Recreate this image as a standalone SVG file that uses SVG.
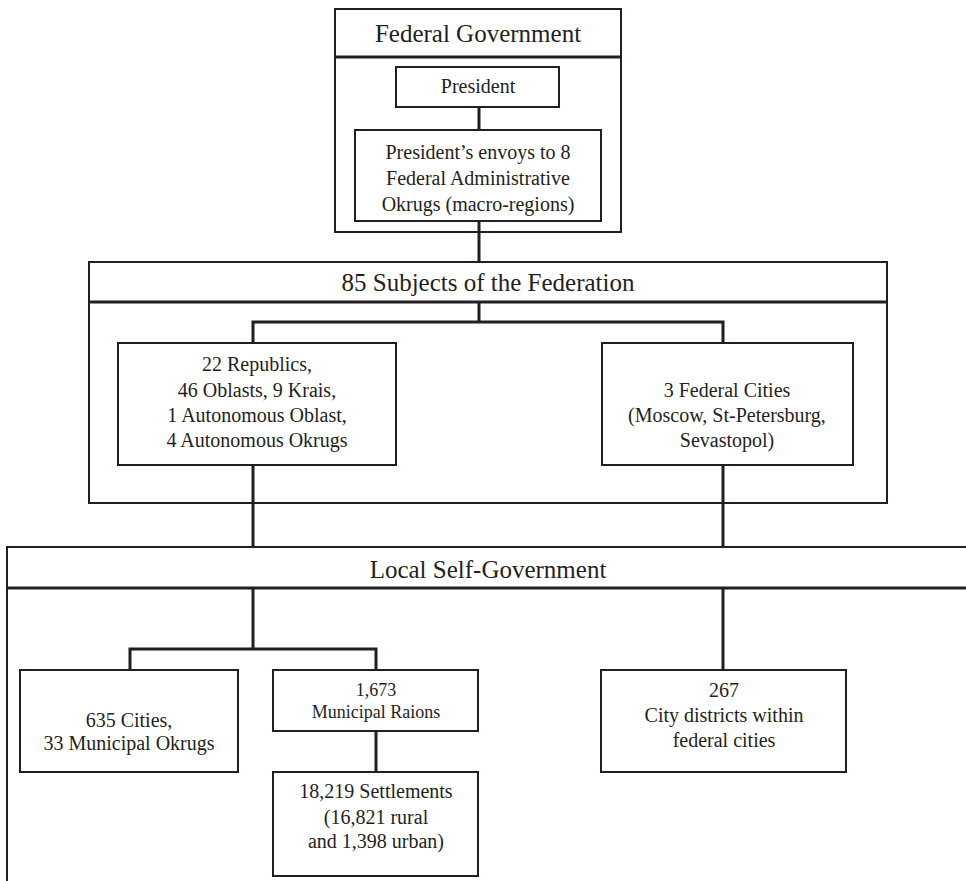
<svg xmlns="http://www.w3.org/2000/svg" width="966" height="881" viewBox="0 0 966 881">
<style>
text { font-family: 'Liberation Serif', Tinos, 'Times New Roman', 'Nimbus Roman', 'DejaVu Serif', serif; fill: #231f20; text-anchor: middle; }
.t25 { font-size: 25px; }
.t20 { font-size: 20px; }
.t18 { font-size: 18px; }
.box { fill: #ffffff; stroke: #231f20; stroke-width: 2; }
.div { stroke: #231f20; stroke-width: 3; fill: none; }
.con { stroke: #231f20; stroke-width: 3; fill: none; }
</style>
<rect width="966" height="881" fill="#ffffff"/>

<g id="federal-government">
  <rect class="box" x="335" y="9" width="286" height="223"/>
  <line class="div" x1="335" y1="57" x2="621" y2="57"/>
  <text class="t25" x="478" y="42">Federal Government</text>
</g>

<g id="subjects">
  <rect class="box" x="89" y="262" width="798" height="241"/>
  <line class="div" x1="89" y1="302" x2="887" y2="302"/>
  <text class="t25" x="488" y="291">85 Subjects of the Federation</text>
</g>

<g id="local-self-government">
  <rect class="box" x="7" y="547" width="1000" height="400"/>
  <line class="div" x1="7" y1="588" x2="966" y2="588"/>
  <text class="t25" x="488" y="578">Local Self-Government</text>
</g>

<g id="connectors">
  <line class="con" x1="479" y1="107" x2="479" y2="130"/>
  <line class="con" x1="479" y1="221" x2="479" y2="262"/>
  <polyline class="con" points="253,343 253,322 723,322 723,343"/>
  <line class="con" x1="479" y1="302" x2="479" y2="322"/>
  <line class="con" x1="253" y1="465" x2="253" y2="547"/>
  <line class="con" x1="723" y1="465" x2="723" y2="547"/>
  <line class="con" x1="253" y1="588" x2="253" y2="649"/>
  <polyline class="con" points="130,670 130,649 376,649 376,670"/>
  <line class="con" x1="723" y1="588" x2="723" y2="670"/>
  <line class="con" x1="376" y1="731" x2="376" y2="772"/>
</g>

<g id="president">
  <rect class="box" x="396" y="67" width="163" height="40"/>
  <text class="t20" x="478" y="93">President</text>
</g>

<g id="envoys">
  <rect class="box" x="355" y="130" width="246" height="91"/>
  <text class="t20" x="478" y="159">President’s envoys to 8</text>
  <text class="t20" x="478" y="185">Federal Administrative</text>
  <text class="t20" x="478" y="211">Okrugs (macro-regions)</text>
</g>

<g id="republics">
  <rect class="box" x="118" y="343" width="278" height="122"/>
  <text class="t20" x="257" y="371">22 Republics,</text>
  <text class="t20" x="257" y="397">46 Oblasts, 9 Krais,</text>
  <text class="t20" x="257" y="422">1 Autonomous Oblast,</text>
  <text class="t20" x="257" y="447">4 Autonomous Okrugs</text>
</g>

<g id="federal-cities">
  <rect class="box" x="602" y="343" width="251" height="122"/>
  <text class="t20" x="727" y="397">3 Federal Cities</text>
  <text class="t20" x="727" y="422">(Moscow, St-Petersburg,</text>
  <text class="t20" x="727" y="447">Sevastopol)</text>
</g>

<g id="cities">
  <rect class="box" x="20" y="670" width="218" height="102"/>
  <text class="t20" x="129" y="727">635 Cities,</text>
  <text class="t20" x="129" y="750">33 Municipal Okrugs</text>
</g>

<g id="raions">
  <rect class="box" x="273" y="670" width="205" height="61"/>
  <text class="t18" x="376" y="696">1,673</text>
  <text class="t18" x="376" y="718">Municipal Raions</text>
</g>

<g id="settlements">
  <rect class="box" x="273" y="772" width="205" height="104"/>
  <text class="t20" x="376" y="798">18,219 Settlements</text>
  <text class="t20" x="376" y="824">(16,821 rural</text>
  <text class="t20" x="376" y="848">and 1,398 urban)</text>
</g>

<g id="city-districts">
  <rect class="box" x="601" y="670" width="245" height="102"/>
  <text class="t20" x="724" y="697">267</text>
  <text class="t20" x="724" y="722">City districts within</text>
  <text class="t20" x="724" y="747">federal cities</text>
</g>
</svg>
